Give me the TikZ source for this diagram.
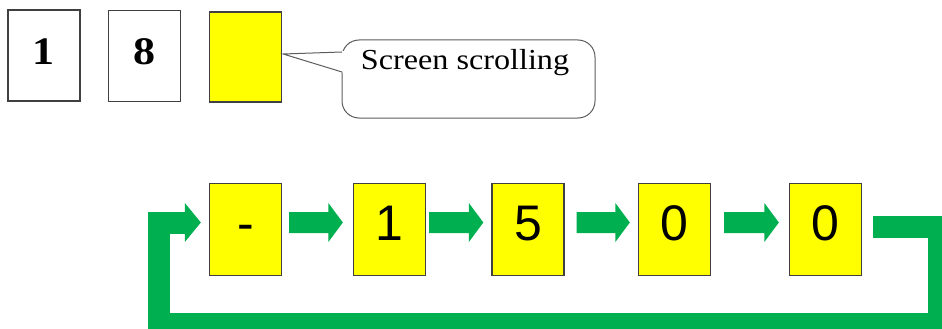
\documentclass[tikz,border=0pt]{standalone}
\usepackage{graphicx}
\usepackage{fontspec}
\setmainfont{Liberation Serif}
\newfontfamily\arialfont{Liberation Sans}
\usetikzlibrary{calc}
\definecolor{boxyellow}{HTML}{FFFF00}
\definecolor{loopgreen}{HTML}{00B050}
\definecolor{edgegray}{HTML}{404040}
\tikzset{
  digitbox/.style={draw=edgegray, line width=1.3pt, inner sep=0pt, minimum width=72pt, minimum height=91pt},
  topdigit/.style={digitbox, fill=white, font=\fontsize{39}{39}\selectfont\bfseries, text height=26pt, text depth=9pt},
  botdigit/.style={digitbox, fill=boxyellow, minimum height=92pt, font=\arialfont\fontsize{50}{50}\selectfont, text height=36pt, text depth=15pt},
  greenfill/.style={fill=loopgreen, draw=none},
  bubbleline/.style={draw=edgegray!85, line width=1pt},
}
% block arrow from node #1 (east, shifted by #3) to node #2 (west, shifted by #4)
\newcommand{\blockarr}[4]{%
  \path ([xshift=#3,yshift=7pt]#1.east) coordinate (bas) ([xshift=#4,yshift=7pt]#2.west) coordinate (tip);
  \fill[greenfill] ($(bas)+(0,-10.5)$) -- ($(tip)+(-14.5,-10.5)$) -- ($(tip)+(-14.5,-19.5)$) -- (tip)
     -- ($(tip)+(-14.5,19.5)$) -- ($(tip)+(-14.5,10.5)$) -- ($(bas)+(0,10.5)$) -- cycle;
}
\begin{document}
\begin{tikzpicture}[x=1pt,y=-1pt]
\useasboundingbox (0,0) rectangle (942,329);
\clip (0,0) rectangle (942,329);
% top row
\node[topdigit] (t1) at (44,55.5) {\scalebox{1.13}[1]{1}};
\node[topdigit] (t8) at (144.5,56) {\scalebox{1.13}[1]{8}};
\node[digitbox, fill=boxyellow, minimum height=90pt] (ty) at (245.5,57) {};
% callout
\draw[bubbleline, fill=white, rounded corners=17pt] (342,40) rectangle (595,118);
\fill[white] ([shift={(1,-3)}]ty.east) -- (344.5,51) -- (344.5,73) -- cycle;
\draw[bubbleline, line join=miter] (342,52) -- ([shift={(1,-3)}]ty.east) -- (342,72);
\node[font=\fontsize{29}{29}\selectfont, anchor=base, inner sep=0pt] (bubbletext) at (465,69.5) {\scalebox{1.11}[1]{Screen scrolling}};
% bottom row
\node[botdigit] (b1) at (245.5,229.5) {-};
\node[botdigit] (b2) at (389.5,229.5) {1};
\node[botdigit] (b3) at (528,229.5) {5};
\node[botdigit] (b4) at (674.5,229.5) {0};
\node[botdigit] (b5) at (825.5,229.5) {0};
% arrows
\blockarr{b1}{b2}{7pt}{-10pt}
\blockarr{b2}{b3}{3pt}{-8pt}
\blockarr{b3}{b4}{12pt}{-8pt}
\blockarr{b4}{b5}{13pt}{-10pt}
% loop back
\coordinate (loopR) at (939,0);
\coordinate (loopB) at (0,324);
\coordinate (loopL) at (159,0);
\coordinate (loophead) at ([xshift=-24pt,yshift=7pt]b1.west);
\coordinate (looptip) at ([xshift=-8pt,yshift=7pt]b1.west);
\draw[draw=loopgreen, line width=22pt, line join=miter]
  ([xshift=11pt,yshift=3pt]b5.east) -| (loopR |- loopB) -| (looptip -| loopL) -- ([xshift=0.5pt]loophead);
\fill[greenfill] ($(loophead)+(0,-19.5)$) -- (looptip) -- ($(loophead)+(0,19.5)$) -- cycle;
\end{tikzpicture}
\end{document}
